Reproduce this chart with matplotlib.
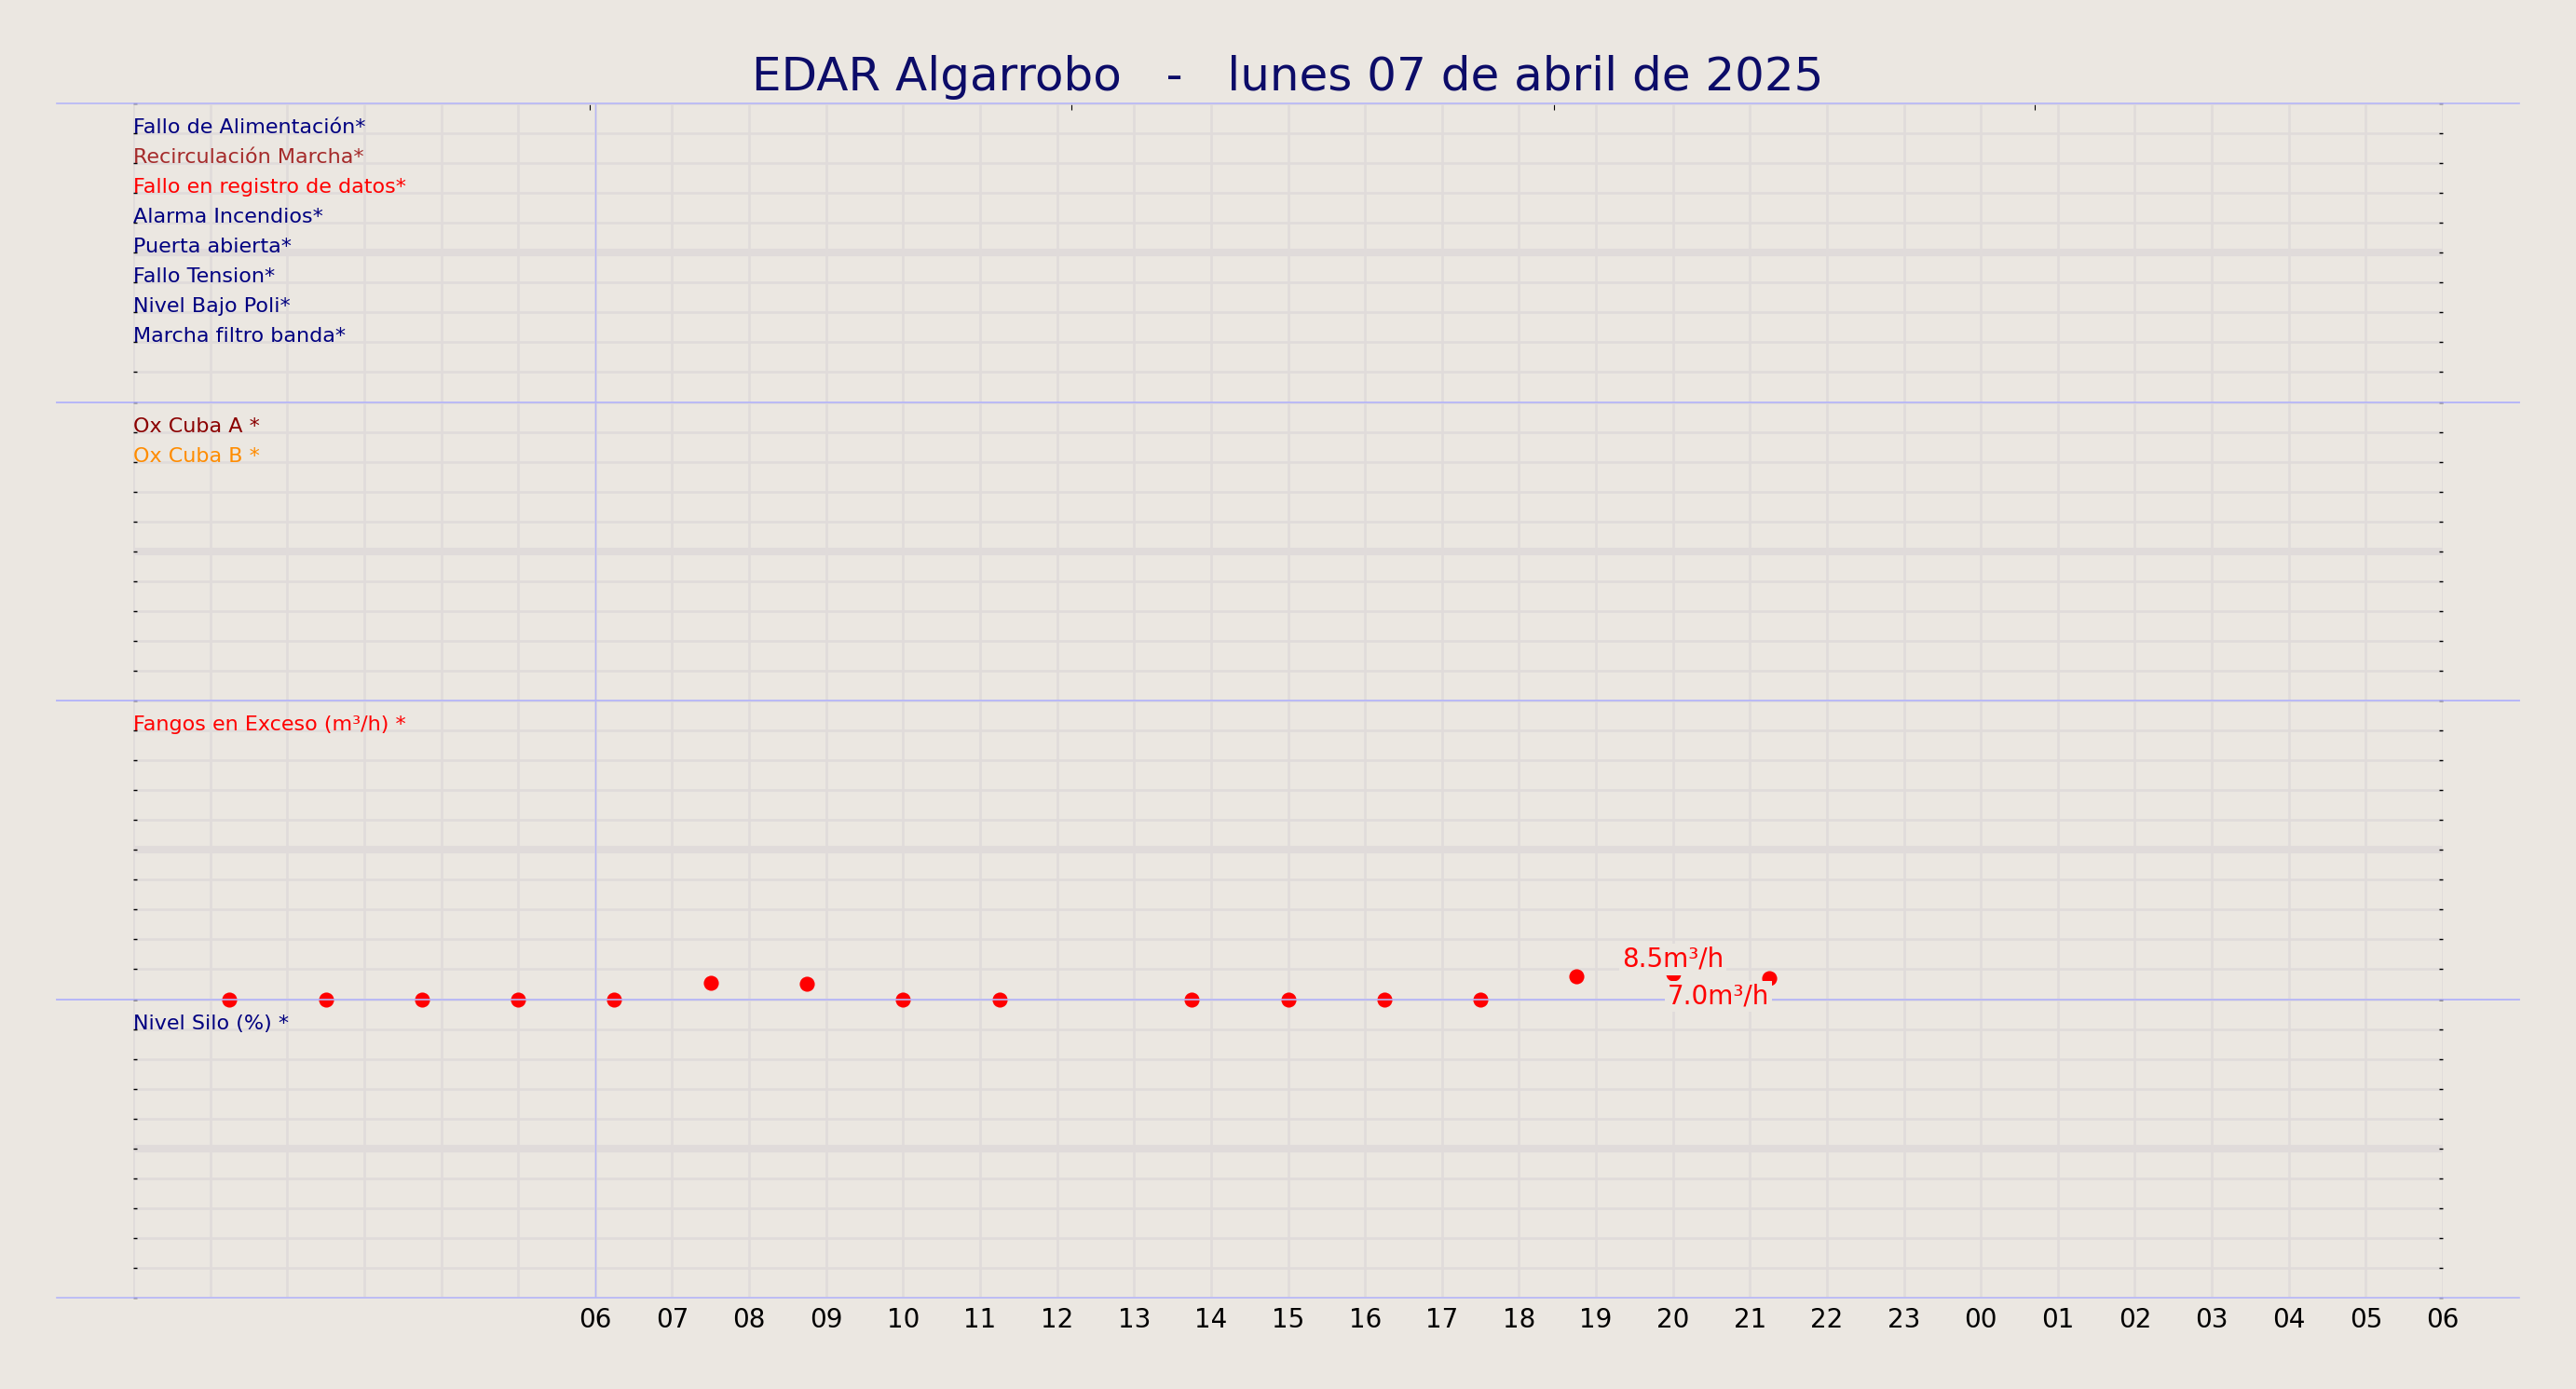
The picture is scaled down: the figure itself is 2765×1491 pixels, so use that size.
import matplotlib
matplotlib.use("Agg")
import matplotlib.pyplot as plt
import pandas as pd
import numpy as np

# ---------------- data ----------------
title_text = "EDAR Algarrobo   -   lunes 07 de abril de 2025"
x_start = "2025-04-07 00:00"
x_end = "2025-04-08 06:00"
marked_from = "2025-04-07 06:00"

panel1_labels = ["Fallo de Alimentación*", "Recirculación Marcha*", "Fallo en registro de datos*",
                 "Alarma Incendios*", "Puerta abierta*", "Fallo Tension*", "Nivel Bajo Poli*",
                 "Marcha filtro banda*"]
panel1_colors = ["navy", "brown", "red", "navy", "navy", "navy", "navy", "navy"]
panel2_labels = ["Ox Cuba A *", "Ox Cuba B *"]
panel2_colors = ["darkred", "darkorange"]
panel3_labels = ["Fangos en Exceso (m³/h) *"]
panel3_colors = ["red"]
panel4_labels = ["Nivel Silo (%) *"]
panel4_colors = ["navy"]

fangos_times = ["2025-04-07 01:15", "2025-04-07 02:30", "2025-04-07 03:45", "2025-04-07 05:00",
                "2025-04-07 06:15", "2025-04-07 07:30", "2025-04-07 08:45", "2025-04-07 10:00",
                "2025-04-07 11:15", "2025-04-07 13:45", "2025-04-07 15:00", "2025-04-07 16:15",
                "2025-04-07 17:30", "2025-04-07 18:45", "2025-04-07 20:00", "2025-04-07 21:15"]
fangos_values = [0, 0, 0, 0, 0, 5.5, 5.0, 0, 0, 0, 0, 0, 0, 7.7, 8.5, 7.0]
fangos_unit = "m³/h"

top_tick_times = ["2025-04-07 05:56", "2025-04-07 12:11", "2025-04-07 18:27", "2025-04-08 00:42"]

# ---------------- style ----------------
bg = "#ebe7e1"
grid_c = "#e0dbda"
blue_c = "#b6b6f8"

fig = plt.figure(figsize=(27.65, 14.91), dpi=100, facecolor=bg)

left = 143 / 2765
right = 2622 / 2765
top = 1 - 111 / 1491
bottom = 1 - 1393 / 1491
ph = (top - bottom) / 4

xs = pd.Timestamp(x_start)
xe = pd.Timestamp(x_end)
hours = pd.date_range(xs, xe, freq="1h")
mf = pd.Timestamp(marked_from)
hour_labels = [h.strftime("%H") if h >= mf else "" for h in hours]

panels_labels = [panel1_labels, panel2_labels, panel3_labels, panel4_labels]
panels_colors = [panel1_colors, panel2_colors, panel3_colors, panel4_colors]

axes = []
for i in range(4):
    ax = fig.add_axes([left, top - (i + 1) * ph, right - left, ph])
    ax.set_facecolor("none")
    ax.set_xlim(xs, xe)
    ax.set_ylim(0, 100)
    for s in ax.spines.values():
        s.set_visible(False)
    ax.set_xticks(hours)
    ax.set_xticklabels(hour_labels if i == 3 else [""] * len(hours))
    ax.set_yticks(np.arange(0, 101, 10))
    ax.set_yticklabels([])
    ax.tick_params(axis="x", which="major", length=0, pad=7.2, labelsize=20, colors="black")
    ax.tick_params(axis="y", direction="in", length=2.8, width=1.0, left=True, right=True,
                   colors="black")
    ax.grid(True, which="major", color=grid_c, linewidth=1.9, zorder=0)
    ax.set_axisbelow(True)
    ax.axhline(50, color=grid_c, linewidth=5.8, zorder=0.5)
    ax.axvline(mf, color=blue_c, linewidth=1.0, zorder=0.8)
    # panel boundary lines
    ax.axhline(100, xmin=-0.033, xmax=1.033, color=blue_c, linewidth=1.2, clip_on=False, zorder=3)
    ax.axhline(0, xmin=-0.033, xmax=1.033, color=blue_c, linewidth=1.2, clip_on=False, zorder=3)
    for k, (lab, col) in enumerate(zip(panels_labels[i], panels_colors[i])):
        ax.text(0.0, 0.9 - 0.1 * k, lab, color=col, fontsize=16, ha="left", va="baseline",
                transform=ax.transAxes, zorder=4)
    axes.append(ax)

# top ticks on first panel
ax0 = axes[0]
ax0.set_xticks(pd.to_datetime(top_tick_times), minor=True)
ax0.tick_params(axis="x", which="minor", bottom=False, top=True, direction="in",
                length=5, width=0.8, colors="black")

# fangos panel on top of the others
ax3 = axes[2]
ax3.set_zorder(2)
ft = pd.to_datetime(fangos_times)
ax3.scatter(ft, fangos_values, s=135, color="red", zorder=2, clip_on=False, linewidths=0)

imax = int(np.argmax(fangos_values))
ilast = len(fangos_values) - 1
box = dict(boxstyle="square,pad=0.1", fc=bg, ec="none")
ax3.annotate(f"{fangos_values[imax]:.1f}{fangos_unit}", (ft[imax], fangos_values[imax]),
             xytext=(0, 1), textcoords="offset points",
             ha="center", va="bottom", color="red", fontsize=20, bbox=box, zorder=5,
             annotation_clip=False)
ax3.annotate(f"{fangos_values[ilast]:.1f}{fangos_unit}", (ft[ilast], fangos_values[ilast]),
             xytext=(0, -4), textcoords="offset points",
             ha="right", va="top", color="red", fontsize=20, bbox=box, zorder=5,
             annotation_clip=False)

fig.text(0.5, 1 - 97 / 1491, title_text, ha="center", va="baseline", fontsize=36,
         color="#0c0c68")

fig.savefig("out.png", dpi=100, facecolor=bg)
